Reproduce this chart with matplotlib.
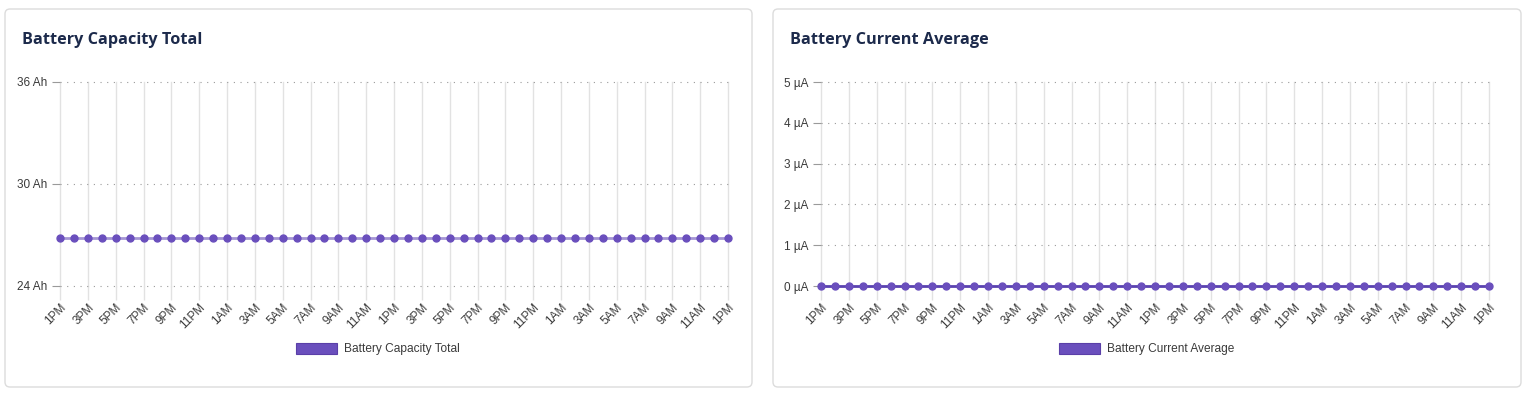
import matplotlib
matplotlib.use("Agg")
import matplotlib.pyplot as plt
from matplotlib.patches import FancyBboxPatch, Patch
from matplotlib.transforms import IdentityTransform

# hourly samples, 1PM -> 1PM two days later
hours = list(range(49))
tick_labels = ['1PM', '3PM', '5PM', '7PM', '9PM', '11PM', '1AM', '3AM', '5AM', '7AM', '9AM', '11AM',
               '1PM', '3PM', '5PM', '7PM', '9PM', '11PM', '1AM', '3AM', '5AM', '7AM', '9AM', '11AM', '1PM']
capacity_ah = [26.8, 26.8, 26.8, 26.8, 26.8, 26.8, 26.8, 26.8, 26.8, 26.8,
               26.8, 26.8, 26.8, 26.8, 26.8, 26.8, 26.8, 26.8, 26.8, 26.8,
               26.8, 26.8, 26.8, 26.8, 26.8, 26.8, 26.8, 26.8, 26.8, 26.8,
               26.8, 26.8, 26.8, 26.8, 26.8, 26.8, 26.8, 26.8, 26.8, 26.8,
               26.8, 26.8, 26.8, 26.8, 26.8, 26.8, 26.8, 26.8, 26.8]
current_ua = [0, 0, 0, 0, 0, 0, 0, 0, 0, 0,
              0, 0, 0, 0, 0, 0, 0, 0, 0, 0,
              0, 0, 0, 0, 0, 0, 0, 0, 0, 0,
              0, 0, 0, 0, 0, 0, 0, 0, 0, 0,
              0, 0, 0, 0, 0, 0, 0, 0, 0]
capacity_ticks = [24, 30, 36]
current_ticks = [0, 1, 2, 3, 4, 5]

W, H = 1530, 397
PURPLE = '#6a4fbd'
GRID = '#e2e2e2'
TEXT = '#3a3a3a'

plt.rcParams['font.family'] = ['Liberation Sans', 'DejaVu Sans']

fig = plt.figure(figsize=(W / 100, H / 100), dpi=100)
fig.patch.set_facecolor('white')


def card(x0, x1, title):
    # rounded card outline, pixel coords from top-left
    box = FancyBboxPatch((x0, H - 387), x1 - x0, 378, boxstyle='round,pad=0,rounding_size=5',
                         transform=IdentityTransform(), facecolor='white', edgecolor='#dcdcdc',
                         linewidth=1.0, zorder=-1)
    fig.patches.append(box)
    fig.text((x0 + 17) / W, 1 - 40 / H, title, fontsize=11.7, fontweight='bold',
             color='#1c2a4b', family=['Open Sans', 'DejaVu Sans'], va='center', ha='left')


def panel(left_px, values, yticks, unit, line_color, label, legend_x):
    ax = fig.add_axes([left_px / W, (H - 286) / H, 668 / W, 204 / H])
    ax.set_facecolor('none')
    ax.plot(hours, values, color=line_color, linewidth=2, marker='o', markersize=5,
            markerfacecolor=PURPLE, markeredgecolor=PURPLE, zorder=3, clip_on=False)
    ax.set_xlim(hours[0], hours[-1])
    ax.set_ylim(yticks[0], yticks[-1])
    ax.set_xticks(hours[::2])
    ax.set_xticklabels(tick_labels, rotation=45, ha='right', rotation_mode='anchor')
    ax.set_yticks(yticks)
    ax.set_yticklabels([f'{t} {unit}' for t in yticks])
    ax.tick_params(axis='x', length=10, color=GRID, width=1, labelsize=8.5, labelcolor=TEXT, pad=1)
    ax.tick_params(axis='y', length=6, color='#9a9a9a', width=0.8, labelsize=8.5, labelcolor=TEXT, pad=3)
    ax.grid(axis='x', color=GRID, linewidth=1)
    ax.grid(axis='y', color='#9a9a9a', linewidth=0.8, linestyle=(0, (1, 5)))
    for gl in ax.get_xgridlines() + ax.get_ygridlines():
        gl.set_clip_on(False)
    ax.set_axisbelow(True)
    for s in ax.spines.values():
        s.set_visible(False)
    handle = Patch(facecolor=PURPLE, edgecolor='#5a3fa8', linewidth=0.8, label=label)
    fig.legend(handles=[handle], loc='center', bbox_to_anchor=(legend_x / W, 1 - 349 / H),
               frameon=False, fontsize=8.6, handlelength=3.4, handleheight=1.1, handletextpad=0.6,
               labelcolor=TEXT)
    return ax


card(5, 752, 'Battery Capacity Total')
card(773, 1521, 'Battery Current Average')
panel(60, capacity_ah, capacity_ticks, 'Ah', '#a596d4', 'Battery Capacity Total', 378)
panel(821, current_ua, current_ticks, 'µA', '#5a42b0', 'Battery Current Average', 1147)

fig.savefig('out.png', dpi=100, facecolor='white')
